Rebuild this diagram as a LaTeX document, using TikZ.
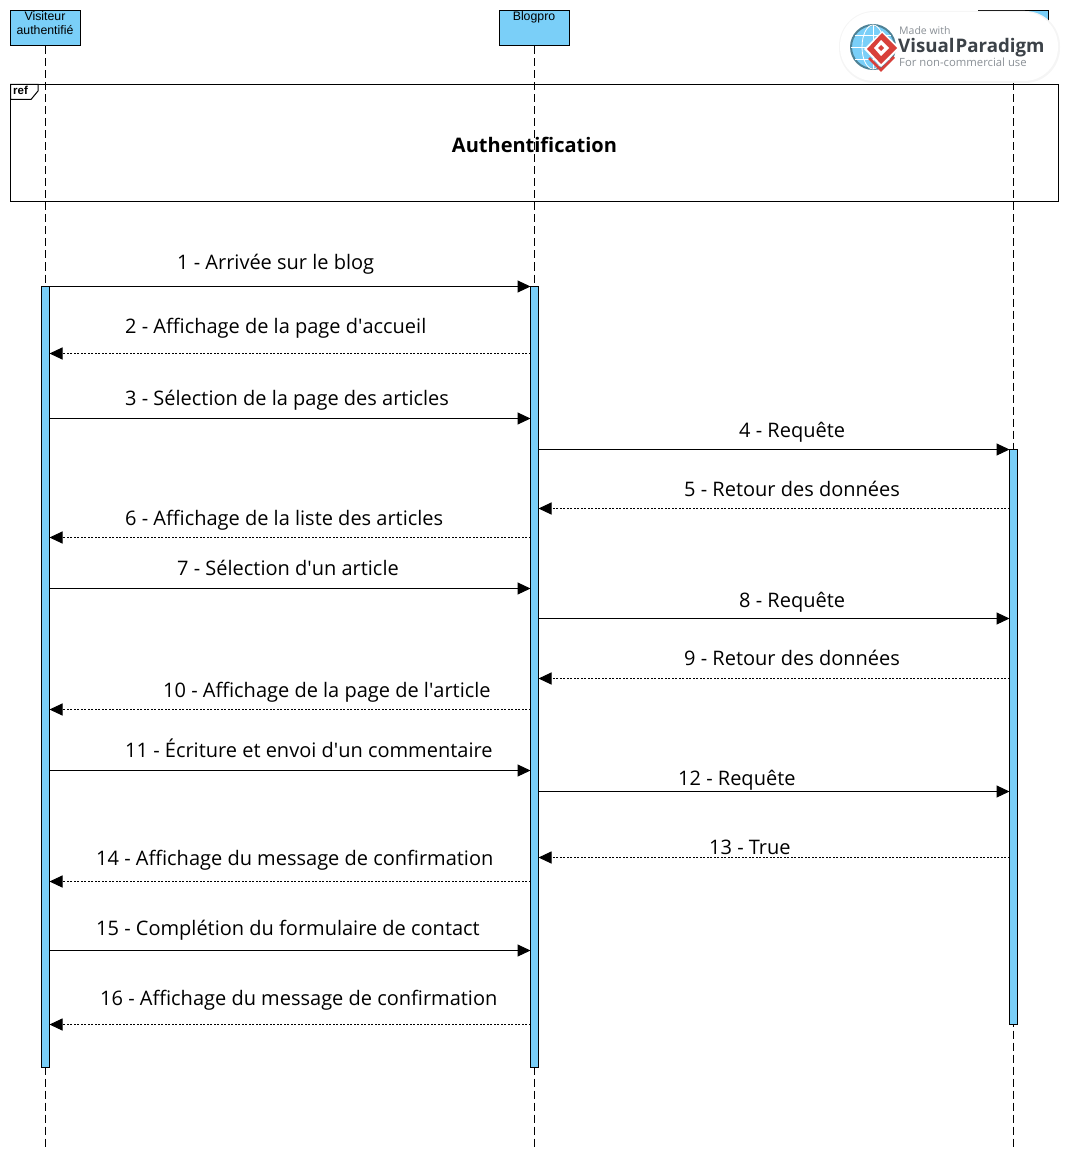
\documentclass[tikz,border=0pt]{standalone}
\usepackage{fontspec}
\setmainfont{Open Sans}
\newfontfamily\lifefont{Liberation Sans}
\usetikzlibrary{arrows.meta}
\definecolor{vpblue}{HTML}{7ACFF8}
\definecolor{vpred}{HTML}{D8403A}
\definecolor{vpdark}{HTML}{3C4248}
\definecolor{vpgrey}{HTML}{8A9096}
\definecolor{vpring}{HTML}{4E8296}
\newcommand{\sq}{\textquotesingle}
\tikzset{
  x=1pt,y=-1pt,
  lifebox/.style={draw=black,fill=vpblue,line width=1pt,minimum width=70pt,minimum height=35pt,inner sep=0pt},
  lifename/.style={anchor=base,inner sep=0pt,font=\lifefont\fontsize{12.3}{14}\selectfont,text=black},
  activation/.style={draw=black,fill=vpblue,line width=1pt,minimum width=8pt,inner sep=0pt,outer sep=0pt,anchor=north},
  lifeline/.style={line width=1pt,dash pattern=on 8pt off 4pt},
  callmsg/.style={line width=1pt,-{Triangle[length=13pt,width=12pt]}},
  returnmsg/.style={line width=1pt,dash pattern=on 2pt off 1.5pt,-{Triangle[length=13pt,width=12pt]}},
  msglabel/.style={anchor=base west,inner sep=0pt,font=\fontsize{20}{24}\selectfont},
  logotext/.style={anchor=base west,inner sep=0pt}
}
\newcommand{\callr}[3]{\draw[callmsg] (#1.east |- 0,#3) -- (#2.west |- 0,#3);}
\newcommand{\retl}[3]{\draw[returnmsg] (#1.west |- 0,#3) -- (#2.east |- 0,#3);}
\begin{document}
\begin{tikzpicture}
\useasboundingbox (0,0) rectangle (1069,1158);
% lifeline heads
\node[lifebox] (va) at (45.5,28.5) {};
\node[lifename] (van1) at (45,21) {Visiteur};
\node[lifename] (van2) at (45,35) {authentifié};
\node[lifebox] (bp) at (534.5,28.5) {};
\node[lifename] (bpn) at (534,21) {Blogpro};
\node[lifebox] (bd) at (1013.5,28.5) {};
\coordinate (vaend) at (45.5,1147);
\coordinate (bpend) at (534.5,1147);
\coordinate (bdend) at (1013.5,1147);
\draw[lifeline] (va.south) -- (vaend);
\draw[lifeline] (bp.south) -- (bpend);
\draw[lifeline] (bd.south) -- (bdend);
% ref frame
\node[draw=black,line width=1pt,minimum width=1048pt,minimum height=117pt,inner sep=0pt] (frame) at (534.5,143) {};
\node[anchor=base,inner sep=0pt,font=\bfseries\fontsize{20}{24}\selectfont] (title) at (534.5,153) {Authentification};
\coordinate (tabA) at (38,84.5);
\coordinate (tabB) at (38,91);
\coordinate (tabC) at (31,99.5);
\coordinate (tabD) at (10.5,99.5);
\draw[line width=1pt,fill=white] (tabA) -- (tabB) -- (tabC) -- (tabD) -- (10.5,84.5) -- cycle;
\node[anchor=base west,inner sep=0pt,font=\lifefont\bfseries\fontsize{11.5}{14}\selectfont] (reflabel) at (13,95) {ref};
% activations
\node[activation,minimum height=780.5pt] (a) at (45.5,286.5) {};
\node[activation,minimum height=780.5pt] (b) at (534.5,286.5) {};
\node[activation,minimum height=574.5pt] (c) at (1013.5,449.5) {};
% messages
\callr{a}{b}{286.5}
\retl{b}{a}{353.5}
\callr{a}{b}{418.5}
\callr{b}{c}{449.5}
\retl{c}{b}{508.5}
\retl{b}{a}{537.5}
\callr{a}{b}{588.5}
\callr{b}{c}{618.5}
\retl{c}{b}{678.5}
\retl{b}{a}{709.5}
\callr{a}{b}{770.5}
\callr{b}{c}{791.5}
\retl{c}{b}{857.5}
\retl{b}{a}{881.5}
\callr{a}{b}{950.5}
\retl{b}{a}{1024.5}
% labels
\node[msglabel] (m1) at (177,269.6) {1 - Arrivée sur le blog};
\node[msglabel] (m2) at (125,333) {2 - Affichage de la page d\sq accueil};
\node[msglabel] (m3) at (125,405) {3 - Sélection de la page des articles};
\node[msglabel] (m4) at (739,437) {4 - Requête};
\node[msglabel] (m5) at (684,496) {5 - Retour des données};
\node[msglabel] (m6) at (125,525) {6 - Affichage de la liste des articles};
\node[msglabel] (m7) at (177,575) {7 - Sélection d\sq un article};
\node[msglabel] (m8) at (739,607) {8 - Requête};
\node[msglabel] (m9) at (684,665) {9 - Retour des données};
\node[msglabel] (m10) at (163,697) {10 - Affichage de la page de l\sq article};
\node[msglabel] (m11) at (125,757) {11 - Écriture et envoi d\sq un commentaire};
\node[msglabel] (m12) at (678,785) {12 - Requête};
\node[msglabel] (m13) at (709,854) {13 - True};
\node[msglabel] (m14) at (96,865) {14 - Affichage du message de confirmation};
\node[msglabel] (m15) at (96,935) {15 - Complétion du formulaire de contact};
\node[msglabel] (m16) at (100,1005) {16 - Affichage du message de confirmation};
% watermark
\fill[black!4,rounded corners=35pt] (839,11) rectangle (1060,83);
\fill[white,rounded corners=34pt] (840,12) rectangle (1058,81);
\fill[vpblue] (873,47) circle (22);
\draw[vpring,line width=2pt] (873,47) circle (22);
\draw[white,line width=0.8pt] (873,25) -- (873,69) (851,47) -- (895,47) (855,35) -- (891,35) (855,59) -- (891,59);
\draw[white,line width=0.8pt] (873,47) ellipse (11 and 22);
\draw[vpred,line width=2.5pt] (869,58) -- (881,70) -- (894,57);
\fill[white] (882,31) -- (900,48) -- (881,67) -- (864,49) -- cycle;
\fill[vpred] (882,33) -- (897,48) -- (881,64) -- (867,49) -- cycle;
\fill[white] (881,40) -- (889,48) -- (881,56) -- (874,48) -- cycle;
\fill[vpred] (881,45) -- (884,48) -- (881,51) -- (878,48) -- cycle;
\node[logotext,text=vpgrey,font=\fontsize{10.5}{12}\selectfont] (lg1) at (899,35) {Made with};
\node[logotext,text=vpdark,font=\bfseries\fontsize{18.7}{22}\selectfont] (lg2) at (898,53) {Visual\kern1pt Paradigm};
\node[logotext,text=vpgrey,font=\fontsize{11.3}{13}\selectfont] (lg3) at (899,67) {For non-commercial use};
\end{tikzpicture}
\end{document}
